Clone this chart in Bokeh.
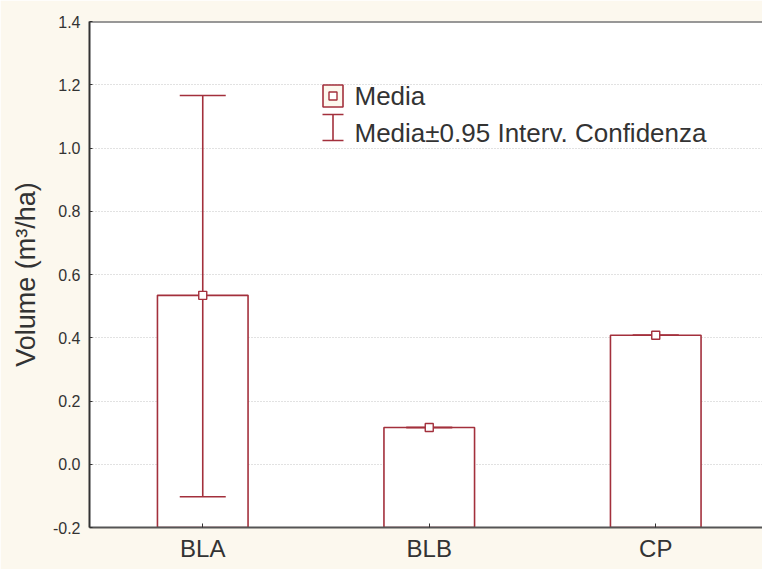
from bokeh.plotting import figure
from bokeh.models import Range1d, FixedTicker, Span, ColumnDataSource
from bokeh.core.properties import value
from bokeh.embed import file_html
from bokeh.resources import INLINE

# ---- data ----
categories = ["BLA", "BLB", "CP"]
means = [0.534, 0.116, 0.408]
ci_low = [-0.103, 0.116, 0.408]
ci_high = [1.166, 0.116, 0.408]
y_ticks = [-0.2, 0.0, 0.2, 0.4, 0.6, 0.8, 1.0, 1.2, 1.4]

RED = "#a3303c"
BG = "#fcf8ee"
TXT = "#333333"
FONT = "Liberation Sans"

xs = [i + 0.5 for i in range(len(categories))]

p = figure(width=762, height=569, output_backend="svg", toolbar_location=None,
           x_range=Range1d(0, 673 / 226.5), y_range=Range1d(-0.2, 1.4),
           min_border_left=89, min_border_top=21, min_border_right=0,
           min_border_bottom=42)
p.background_fill_color = "white"
p.border_fill_color = BG
p.outline_line_color = None

src = ColumnDataSource(dict(x=xs, mean=means, lo=ci_low, hi=ci_high,
                            bottom=[-0.2] * len(xs)))

# bars
p.vbar(x="x", top="mean", bottom="bottom", width=0.4, source=src,
       fill_color="white", line_color=RED, line_width=1.6)
# error bars
p.segment(x0="x", y0="lo", x1="x", y1="hi", source=src, line_color=RED, line_width=1.6)
p.scatter(x="x", y="hi", marker="dash", size=46, source=src, line_color=RED, line_width=1.6)
p.scatter(x="x", y="lo", marker="dash", size=46, source=src, line_color=RED, line_width=1.6)
# mean markers
p.scatter(x="x", y="mean", marker="square", size=8, source=src,
          fill_color="white", line_color=RED, line_width=1.4)

# top frame line
p.add_layout(Span(location=1.4, dimension="width", line_color="#333333", line_width=2))

# ---- legend (drawn manually) ----
def xd(px):
    return (px - 97) / 226.5

def yd(py):
    return -0.2 + (535 - py) / 316.25

p.rect(x=[xd(340.5)], y=[yd(103.5)], width=20, height=22, width_units="screen",
       height_units="screen", fill_color=BG, line_color=RED, line_width=1.6)
p.scatter(x=[xd(340.5)], y=[yd(103.5)], marker="square", size=8,
          fill_color="white", line_color=RED, line_width=1.4)
p.segment(x0=[xd(340.5)], y0=[yd(122)], x1=[xd(340.5)], y1=[yd(148)],
          line_color=RED, line_width=1.6)
p.scatter(x=[xd(340.5)] * 2, y=[yd(122), yd(148)], marker="dash", size=21,
          line_color=RED, line_width=1.6)
p.text(x=[xd(362)] * 2, y=[yd(103), yd(140)],
       text=["Media", "Media\u00b10.95 Interv. Confidenza"],
       text_font=value(FONT), text_font_size="26px", text_color=TXT,
       text_baseline="middle", text_align="left")

# ---- axes ----
p.xgrid.grid_line_color = None
p.ygrid.grid_line_color = "#c4c4c4"
p.ygrid.grid_line_dash = "1 2"
p.ygrid.ticker = FixedTicker(ticks=y_ticks)

p.yaxis.ticker = FixedTicker(ticks=y_ticks)
p.yaxis.major_label_overrides = {t: f"{t:.1f}" for t in y_ticks}
p.yaxis.axis_label = "Volume (m\u00b3/ha)"
p.yaxis.axis_label_text_font = FONT
p.yaxis.axis_label_text_font_size = "27px"
p.yaxis.axis_label_text_font_style = "normal"
p.yaxis.axis_label_text_color = TXT
p.yaxis.axis_label_standoff = 9
p.yaxis.major_label_text_font = FONT
p.yaxis.major_label_text_font_size = "16px"
p.yaxis.major_label_text_color = TXT
p.yaxis.major_label_standoff = 9
p.yaxis.major_tick_in = 3
p.yaxis.major_tick_out = 0
p.yaxis.minor_tick_line_color = None
p.yaxis.axis_line_color = "#333333"
p.yaxis.axis_line_width = 2
p.yaxis.major_tick_line_color = "#333333"

p.xaxis.ticker = FixedTicker(ticks=xs)
p.xaxis.major_label_overrides = {x: c for x, c in zip(xs, categories)}
p.xaxis.major_label_text_font = FONT
p.xaxis.major_label_text_font_size = "24px"
p.xaxis.major_label_text_color = TXT
p.xaxis.major_label_standoff = 7
p.xaxis.major_tick_in = 4
p.xaxis.major_tick_out = 0
p.xaxis.minor_tick_line_color = None
p.xaxis.axis_line_color = "#555555"
p.xaxis.axis_line_width = 2
p.xaxis.major_tick_line_color = "#333333"

open("out.html", "w").write(file_html(p, INLINE))
